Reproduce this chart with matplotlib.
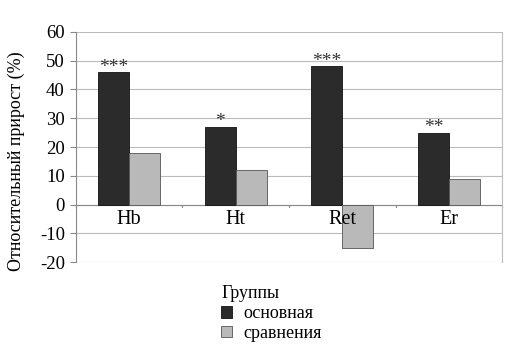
import matplotlib
matplotlib.use("Agg")
import matplotlib.pyplot as plt
import numpy as np

categories = ["Hb", "Ht", "Ret", "Er"]
main_vals = [46, 27, 48, 25]
comp_vals = [18, 12, -15, 9]
stars = ["***", "*", "***", "**"]
yticks = [-20, -10, 0, 10, 20, 30, 40, 50, 60]

plt.rcParams['font.family'] = ['Liberation Serif', 'DejaVu Serif']

fig = plt.figure(figsize=(5.13, 3.59), dpi=100)
ax = fig.add_axes([0.148, 0.27, 0.831, 0.641])

x = np.arange(len(categories))
w = 0.29
b1 = ax.bar(x - w/2, main_vals, w, color="#2b2b2b", edgecolor="#111111", linewidth=0.6, label="основная", zorder=3)
b2 = ax.bar(x + w/2, comp_vals, w, color="#b9b9b9", edgecolor="#555555", linewidth=0.6, label="сравнения", zorder=3)

for xi, v, s in zip(x, main_vals, stars):
    ax.text(xi - w/2, v - 1.2, s, ha="center", va="bottom", fontsize=14, color="#333333")

ax.set_xlim(-0.5, len(categories) - 0.5)
ax.set_ylim(-20, 60)
ax.set_yticks(yticks)
ax.set_yticklabels([str(t) for t in yticks], fontsize=13.5)
ax.yaxis.grid(True, color="#bbbbbb", linewidth=0.8, zorder=0)
ax.set_axisbelow(True)
ax.tick_params(axis="y", length=4, color="#888888", pad=4)
ax.set_xticks([])
for sp in ["top", "bottom"]:
    ax.spines[sp].set_visible(False)
ax.spines["left"].set_color("#888888")
ax.spines["right"].set_color("#bbbbbb")
ax.axhline(0, color="#888888", linewidth=0.8, zorder=2)
for b in np.arange(len(categories) + 1) - 0.5:
    ax.plot([b, b], [0, -1.0], color="#888888", linewidth=0.8, zorder=2, clip_on=False)

for xi, c in zip(x, categories):
    ax.text(xi, -2.0, c, ha="center", va="top", fontsize=14.5)

ax.set_ylabel("Относительный прирост (%)", fontsize=13)
ax.yaxis.set_label_coords(-0.12, 0.44)

leg = fig.legend(handles=[b1, b2], title="Группы", loc="upper left",
                 bbox_to_anchor=(0.40, 0.25), frameon=False, fontsize=13,
                 title_fontsize=13, handlelength=0.6, handleheight=0.6,
                 handletextpad=0.6, labelspacing=0.15, alignment="left")

fig.savefig("out.png", dpi=100)
